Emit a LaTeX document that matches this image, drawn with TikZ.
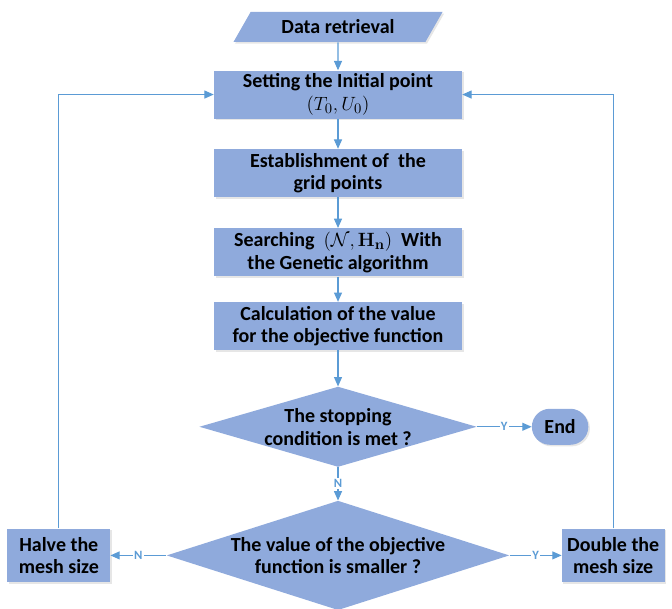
\documentclass[tikz,border=0pt]{standalone}
\usepackage[no-math]{fontspec}
\setmainfont{Carlito}
\usepackage{tikz}
\usetikzlibrary{arrows.meta, positioning, shapes.geometric, shapes.misc, shadows}
\definecolor{boxFill}{HTML}{8FAADC}
\definecolor{lineBlue}{HTML}{5B9BD5}
\newcommand{\flowfont}{\bfseries\fontsize{15}{17}\selectfont}
\tikzset{
  flowArrow/.style={-{Triangle[length=7pt, width=6pt]}, lineBlue, line width=0.8pt},
  yesno/.style={fill=white, text=lineBlue, font=\bfseries\fontsize{9.5}{10}\selectfont, inner sep=1pt},
  boxStep/.style={rectangle, fill=boxFill, align=center, font=\flowfont,
                  minimum width=186pt, minimum height=36pt, inner sep=2pt,
                  drop shadow={opacity=0.2, shadow xshift=1.2pt, shadow yshift=-1.2pt}},
  boxSide/.style={rectangle, fill=boxFill, align=center, font=\flowfont,
                  minimum width=77pt, minimum height=40pt, inner sep=1pt,
                  drop shadow={opacity=0.2, shadow xshift=1.2pt, shadow yshift=-1.2pt}},
  boxDecide/.style={diamond, fill=boxFill, align=center, font=\flowfont, inner sep=0pt},
}

\begin{document}
\begin{tikzpicture}[x=0.75pt, y=-0.75pt, font=\flowfont]
    \useasboundingbox (0,0) rectangle (672,609);

    % columna principal
    \node[trapezium, trapezium left angle=56, trapezium right angle=124,
          trapezium stretches=true, fill=boxFill, minimum width=157pt,
          minimum height=22.5pt, inner sep=1pt,
          drop shadow={opacity=0.2, shadow xshift=1.2pt, shadow yshift=-1.2pt}]
          (data) at (338,27) {Data retrieval};
    \node[boxStep, below=21pt of data] (init)
         {Setting the Initial point\\$(T_0,U_0)$};
    \node[boxStep, below=22.5pt of init] (grid)
         {Establishment of\ \ the\\grid points};
    \node[boxStep, below=23pt of grid] (search)
         {Searching\ \ $(\mathcal{N},\mathbf{H}_{\mathbf{n}})$\ \ With\\the Genetic algorithm};
    \node[boxStep, below=19pt of search] (calc)
         {Calculation of the value\\for the objective function};

    % decisiones
    \node[boxDecide, minimum width=208pt, minimum height=60pt, shape aspect=3.4,
          below=27pt of calc] (stop) {The stopping\\condition is met ?};
    \node[rounded rectangle, fill=boxFill, minimum width=49pt, minimum height=27pt,
          right=41pt of stop,
          drop shadow={opacity=0.2, shadow xshift=1.2pt, shadow yshift=-1.2pt}]
          (end) {End};
    \node[boxDecide, minimum width=257pt, minimum height=82pt, shape aspect=3.1,
          below=25pt of stop] (cmp) {The value of the objective\\function is smaller ?};
    \node[boxSide, left=42pt of cmp] (halve) {Halve the\\mesh size};
    \node[boxSide, right=39pt of cmp] (double) {Double the\\mesh size};

    % flechas
    \draw[flowArrow] (data) -- (init);
    \draw[flowArrow] (init) -- (grid);
    \draw[flowArrow] (grid) -- (search);
    \draw[flowArrow] (search) -- (calc);
    \draw[flowArrow] (calc) -- (stop);
    \draw[flowArrow] (stop) -- node[yesno] {Y} (end);
    \draw[flowArrow] (stop) -- node[yesno] {N} (cmp);
    \draw[flowArrow] (cmp) -- node[yesno] {N} (halve);
    \draw[flowArrow] (cmp) -- node[yesno] {Y} (double);
    \draw[flowArrow] (halve.north) |- (init.west);
    \draw[flowArrow] (double.north) |- (init.east);
\end{tikzpicture}
\end{document}
